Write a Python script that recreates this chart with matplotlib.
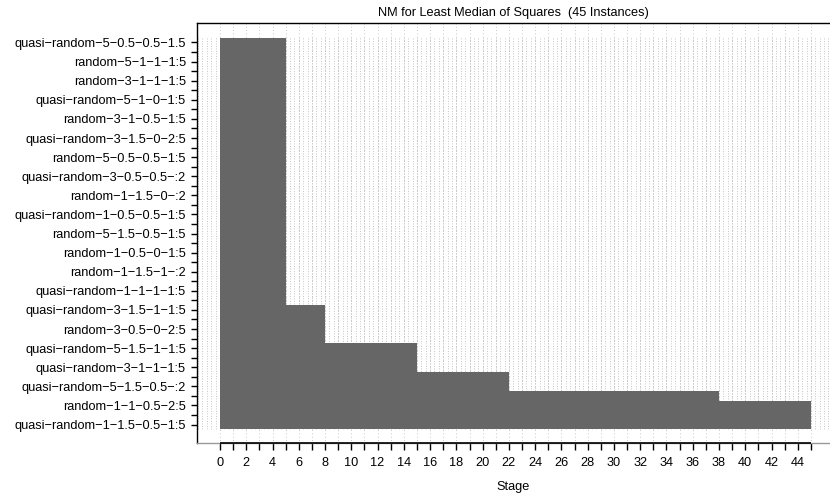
import numpy as np
import matplotlib
matplotlib.use("Agg")
from matplotlib import pyplot as plt

plt.rcParams['font.family'] = ['Liberation Sans', 'DejaVu Sans']

# stage at which each candidate was dropped (top to bottom)
n_kept = [28, 4, 3, 2, 1, 3]
stage_out = [5, 8, 15, 22, 38, 45]

# every other candidate gets a label on the y axis
cand_labels = [
    "quasi−random−5−0.5−0.5−1.5",
    "random−5−1−1−1:5",
    "random−3−1−1−1:5",
    "quasi−random−5−1−0−1:5",
    "random−3−1−0.5−1:5",
    "quasi−random−3−1.5−0−2:5",
    "random−5−0.5−0.5−1:5",
    "quasi−random−3−0.5−0.5−:2",
    "random−1−1.5−0−:2",
    "quasi−random−1−0.5−0.5−1:5",
    "random−5−1.5−0.5−1:5",
    "random−1−0.5−0−1:5",
    "random−1−1.5−1−:2",
    "quasi−random−1−1−1−1:5",
    "quasi−random−3−1.5−1−1:5",
    "random−3−0.5−0−2:5",
    "quasi−random−5−1.5−1−1:5",
    "quasi−random−3−1−1−1:5",
    "quasi−random−5−1.5−0.5−:2",
    "random−1−1−0.5−2:5",
    "quasi−random−1−1.5−0.5−1:5",
]

n_stages = 45
title = "NM for Least Median of Squares  (45 Instances)"

ends = np.repeat(stage_out, n_kept)
ncand = len(ends)
ypos = np.arange(ncand)

fig = plt.figure(figsize=(8.30, 4.93), dpi=100)
ax = fig.add_axes([197 / 830, 1 - 443 / 493, (830 - 197) / 830, (443 - 23.3) / 493])

xlo, xhi = -1.75, 46.45
ylo, yhi = 41.93, -2.01
ax.set_xlim(xlo, xhi)
ax.set_ylim(ylo, yhi)

# dotted background grid
grid_col = "#b4b4b4"
for gx in np.arange(-5, 140) / 3.0:
    if xlo < gx < xhi:
        ax.plot([gx, gx], [-0.5, 40.5], color=grid_col, lw=0.6,
                ls=(0, (1, 2)), zorder=0)
for gx in range(0, n_stages + 1):
    ax.plot([gx, gx], [yhi, ylo], color=grid_col, lw=0.6,
            ls=(0, (1, 3)), zorder=0)

ax.barh(ypos, ends, height=1.0, left=0, color="#666666",
        edgecolor="none", zorder=2)

# axes frame
ax.spines["right"].set_visible(False)
ax.spines["bottom"].set_color("#999999")
for s in ["left", "top", "bottom"]:
    ax.spines[s].set_linewidth(1.0)
ax.plot([0, n_stages], [ylo, ylo], color="black", lw=1.2,
        clip_on=False, zorder=5, solid_capstyle="butt")

ax.set_xticks(np.arange(0, n_stages + 1))
ax.set_xticklabels([str(i) if i % 2 == 0 else "" for i in range(n_stages + 1)])
ax.set_yticks(ypos)
ax.set_yticklabels([cand_labels[i // 2] if i % 2 == 0 else "" for i in ypos])
ax.tick_params(axis="x", direction="out", length=5, width=1, pad=5,
               labelsize=9.2, colors="black")
ax.tick_params(axis="y", direction="out", length=4, width=1, pad=4,
               labelsize=9.2)

ax.set_xlabel("Stage", fontsize=9.2, labelpad=9)
ax.set_title(title, fontsize=9.2, pad=5)

fig.savefig("out.png", dpi=100)
